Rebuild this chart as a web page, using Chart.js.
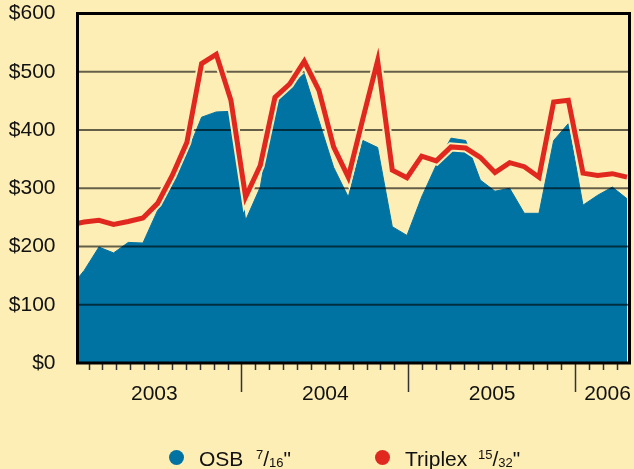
<!DOCTYPE html>
<html>
<head>
<meta charset="utf-8">
<script src="https://cdn.jsdelivr.net/npm/chart.js@4.4.1/dist/chart.umd.min.js"></script>
<style>
  body { margin: 0; background: #fdeeb5; font-family: 'Liberation Sans', Arial, sans-serif; }
  #wrap { position: relative; width: 634px; height: 469px; }
  canvas { position: absolute; left: 0; top: 0; }
  .dot { position: absolute; width: 15px; height: 15px; border-radius: 50%; }
  .lbl { position: absolute; font-size: 21px; line-height: 21px; color: #111; white-space: nowrap; }
  .sm { font-size: 13px; line-height: 0; }
</style>
</head>
<body>
<div id="wrap">
  <canvas id="chart" width="634" height="469"></canvas>
  <div class="dot" style="left:169px;top:450px;background:#0073a3"></div>
  <span class="lbl" style="left:199px;top:448px">OSB</span>
  <span class="lbl" style="left:256px;top:448px"><span class="sm" style="vertical-align:7px">7</span>/<span class="sm" style="vertical-align:-1px">16</span>"</span>
  <div class="dot" style="left:375px;top:450px;background:#e0281f"></div>
  <span class="lbl" style="left:405px;top:448px">Triplex</span>
  <span class="lbl" style="left:478px;top:448px"><span class="sm" style="vertical-align:7px">15</span>/<span class="sm" style="vertical-align:-1px">32</span>"</span>
</div>
<script>
// prices in $ per 1000 sq ft, one value per period (first one falls just left of the plot)
const osb = [128, 159, 199, 189, 207, 206, 262, 317, 360, 422, 431, 432, 245, 302, 448, 474, 497, 416, 336, 285,
             382, 370, 234, 219, 285, 340, 386, 382, 314, 295, 300, 257, 257, 382, 411, 271, 288, 302, 282];
const triplex = [237, 242, 245, 238, 243, 249, 274, 322, 379, 514, 530, 451, 285, 339, 456, 479, 518, 468, 371, 319,
                 420, 519, 331, 318, 355, 347, 371, 369, 353, 327, 344, 337, 319, 448, 451, 326, 322, 325, 319];
const periods = osb.map((_, i) => i);

const yearLabels = ['2003', '2004', '2005', '2006'];
const yearLabelPos = [5.7, 18, 30, 38.3];   // in months from Jan 2003
const yTicks = [0, 100, 200, 300, 400, 500, 600];

const BG = '#fdeeb5';
const BLUE = '#0073a3';
const RED = '#e0281f';

// month ticks + label ticks on the bottom axis
const axisTicks = [];
for (let m = 1; m <= 39; m++) axisTicks.push({ value: m, kind: 'month' });
yearLabelPos.forEach((p, i) => axisTicks.push({ value: p, kind: 'label', label: yearLabels[i] }));
axisTicks.sort((a, b) => a.value - b.value);

const overlay = {
  id: 'overlay',
  afterDatasetDraw(chart, args) {
    // grid lines go over the blue area but under the red line
    if (args.index !== 2) return;
    const { ctx, chartArea: a, scales: { y } } = chart;
    ctx.save();
    ctx.strokeStyle = 'rgba(0,0,0,0.6)';
    ctx.lineWidth = 2;
    y.ticks.forEach(t => {
      const py = y.getPixelForValue(t.value);
      ctx.beginPath();
      ctx.moveTo(a.left, py);
      ctx.lineTo(a.right, py);
      ctx.stroke();
    });
    ctx.restore();
  },
  afterDatasetsDraw(chart) {
    const { ctx, chartArea: a } = chart;
    ctx.save();
    ctx.strokeStyle = '#000';
    ctx.lineWidth = 3;
    ctx.strokeRect(a.left, a.top, a.right - a.left, a.bottom - a.top);
    ctx.restore();
  }
};

new Chart(document.getElementById('chart'), {
  type: 'line',
  data: {
    datasets: [
      {
        label: 'Triplex',
        data: periods.map(i => ({ x: i, y: triplex[i] })),
        borderColor: RED,
        borderWidth: 5,
        pointRadius: 0,
        tension: 0,
        fill: false,
        clip: 0
      },
      {
        label: 'halo',
        data: periods.map(i => ({ x: i, y: triplex[i] })),
        borderColor: BG,
        borderWidth: 9,
        pointRadius: 0,
        tension: 0,
        fill: false,
        clip: 0
      },
      {
        label: 'OSB',
        data: periods.map(i => ({ x: i, y: osb[i] })),
        borderColor: BLUE,
        borderWidth: 1,
        backgroundColor: BLUE,
        pointRadius: 0,
        tension: 0,
        fill: 'origin',
        clip: 0
      }
    ]
  },
  options: {
    responsive: false,
    animation: false,
    devicePixelRatio: 1,
    layout: { padding: { top: 13.5, right: 4.5, left: 0, bottom: 62 } },
    plugins: { legend: { display: false }, tooltip: { enabled: false } },
    scales: {
      x: {
        type: 'linear',
        display: false,
        min: 0.54,
        max: 38.17
      },
      m: {
        type: 'linear',
        position: 'bottom',
        min: 0.17,
        max: 39.88,
        afterBuildTicks: s => { s.ticks = axisTicks.map(t => ({ value: t.value, kind: t.kind, label: t.label })); },
        afterFit: s => { s.height = 44; s.paddingLeft = 0; s.paddingRight = 0; },
        border: { display: false },
        grid: {
          drawOnChartArea: false,
          drawTicks: true,
          tickLength: 29,
          tickWidth: 1.5,
          tickColor: c => (c.tick && c.tick.kind === 'label') ? 'rgba(0,0,0,0)' : '#333',
          tickBorderDash: c => (c.tick && c.tick.kind === 'month' && c.tick.value % 12 !== 0) ? [7, 60] : []
        },
        ticks: {
          autoSkip: false,
          maxRotation: 0,
          padding: -10,
          color: '#111',
          font: { family: "'Liberation Sans', Arial, sans-serif", size: 21 },
          callback: function (v, i, ticks) { return ticks[i].kind === 'label' ? ticks[i].label : ''; }
        }
      },
      y: {
        min: 0,
        max: 600,
        afterBuildTicks: s => { s.ticks = yTicks.map(v => ({ value: v })); },
        afterFit: s => { s.width = 77.5; s.paddingTop = 0; s.paddingBottom = 0; },
        border: { display: false },
        grid: { display: false, drawTicks: false },
        ticks: {
          padding: 22,
          color: '#111',
          font: { family: "'Liberation Sans', Arial, sans-serif", size: 21 },
          callback: v => '$' + v
        }
      }
    }
  },
  plugins: [overlay]
});
</script>
</body>
</html>
